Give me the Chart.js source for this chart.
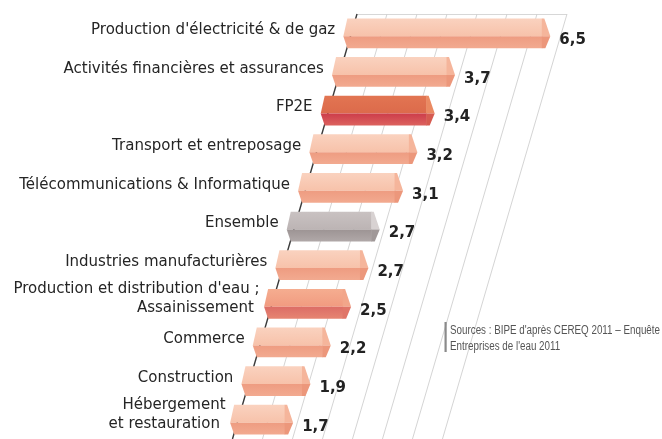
<!DOCTYPE html>
<html><head><meta charset="utf-8">
<script src="https://cdn.jsdelivr.net/npm/chart.js@4/dist/chart.umd.min.js"></script>
<style>html,body{margin:0;padding:0;background:#fff;}canvas{display:block;}</style>
</head><body>
<canvas id="c" width="662" height="439"></canvas>
<script>
const categories = [
  ["Production d'électricité & de gaz"],
  ["Activités financières et assurances"],
  ["FP2E"],
  ["Transport et entreposage"],
  ["Télécommunications & Informatique"],
  ["Ensemble"],
  ["Industries manufacturières"],
  ["Production et distribution d'eau ;", "Assainissement"],
  ["Commerce"],
  ["Construction"],
  ["Hébergement", "et restauration"]
];
const values = [6.5, 3.7, 3.4, 3.2, 3.1, 2.7, 2.7, 2.5, 2.2, 1.9, 1.7];
const xTicks = [0, 1, 2, 3, 4, 5, 6, 7];
const sourceLines = ["Sources : BIPE d'après CEREQ 2011 – Enquête", "Entreprises de l'eau 2011"];

const barKinds = ['light','light','fp2e','light','light','ensemble','light','eau','light','light','light'];
const palette = {
  light:    {t1:'#fad2bf', t2:'#f7c2aa', l1:'#ee9c81', l2:'#f2aa90', cu:'#f5b59b', cl:'#ec977b'},
  fp2e:     {t1:'#e27552', t2:'#dc6a4b', l1:'#cd3d4b', l2:'#dc625e', cu:'#ea8a62', cl:'#d65a50'},
  ensemble: {t1:'#c9c2c2', t2:'#bcb4b4', l1:'#9d9494', l2:'#b0a8a8', cu:'#d8d2d2', cl:'#a09898'},
  eau:      {t1:'#f5ad90', t2:'#f19b80', l1:'#dc6d66', l2:'#e68572', cu:'#f2a68a', cl:'#e07568'}
};
const K = -0.293;
const FONT = '"DejaVu Sans", "Liberation Sans", sans-serif';

const skew3d = {
  id: 'skew3d',
  beforeDatasetsDraw(chart) {
    const ctx = chart.ctx, a = chart.chartArea, xs = chart.scales.x;
    const H = a.bottom - a.top;
    ctx.save();
    ctx.strokeStyle = '#d2d2d2'; ctx.lineWidth = 0.9;
    ctx.beginPath();
    ctx.moveTo(xs.getPixelForValue(xTicks[0]), a.top + 0.5);
    ctx.lineTo(xs.getPixelForValue(xTicks[xTicks.length-1]), a.top + 0.5);
    ctx.stroke();
    xTicks.forEach((t, i) => {
      const x = xs.getPixelForValue(t);
      ctx.beginPath();
      ctx.strokeStyle = i === 0 ? '#3a3a3a' : '#cfcfcf';
      ctx.lineWidth = i === 0 ? 1.4 : 0.9;
      ctx.moveTo(x, a.top);
      ctx.lineTo(x + K * H, a.bottom);
      ctx.stroke();
    });
    ctx.restore();
  },
  afterDatasetsDraw(chart) {
    const ctx = chart.ctx, a = chart.chartArea;
    const meta = chart.getDatasetMeta(0);
    ctx.save();
    meta.data.forEach((el, i) => {
      const p = el.getProps(['x','y','base','height'], true);
      const s = K * (p.y - a.top);
      const xl = p.base + s - 4;
      const xr = xl + (p.x - p.base);
      const y0 = p.y - p.height/2, y1 = p.y + p.height/2, ys = y0 + 0.6*p.height;
      const c = palette[barKinds[i]];
      let g = ctx.createLinearGradient(0, y0, 0, ys);
      g.addColorStop(0, c.t1); g.addColorStop(1, c.t2);
      ctx.fillStyle = g;
      ctx.beginPath();
      ctx.moveTo(xl, y0); ctx.lineTo(xr, y0); ctx.lineTo(xr, ys); ctx.lineTo(xl-4, ys); ctx.closePath();
      ctx.fill();
      g = ctx.createLinearGradient(0, ys, 0, y1);
      g.addColorStop(0, c.l1); g.addColorStop(1, c.l2);
      ctx.fillStyle = g;
      ctx.beginPath();
      ctx.moveTo(xl-4, ys); ctx.lineTo(xr, ys); ctx.lineTo(xr, y1); ctx.lineTo(xl, y1); ctx.closePath();
      ctx.fill();
      ctx.fillStyle = c.cu;
      ctx.beginPath();
      ctx.moveTo(xr-0.5, y0); ctx.lineTo(xr+2, y0); ctx.lineTo(xr+8, ys); ctx.lineTo(xr-0.5, ys); ctx.closePath();
      ctx.fill();
      ctx.fillStyle = c.cl;
      ctx.beginPath();
      ctx.moveTo(xr-0.5, ys); ctx.lineTo(xr+8, ys); ctx.lineTo(xr+3, y1); ctx.lineTo(xr-0.5, y1); ctx.closePath();
      ctx.fill();

      // value label
      ctx.fillStyle = '#222';
      ctx.font = 'bold 15px ' + FONT;
      ctx.textAlign = 'left'; ctx.textBaseline = 'middle';
      ctx.fillText(String(values[i]).replace('.', ','), xr + 17, p.y + 7);

      // category label
      const lines = chart.data.labels[i];
      const n = lines.length, lh = 19;
      const cy = p.y + (n > 1 ? -5.5 : -3);
      ctx.font = '15px ' + FONT;
      ctx.fillStyle = '#252525';
      ctx.textAlign = 'right';
      lines.forEach((ln, j) => {
        const ly = cy - (n-1)*lh/2 + j*lh;
        const ax = p.base + K * (ly - a.top);
        ctx.fillText(ln, ax - 17, ly);
      });
    });

    // source note
    ctx.fillStyle = '#8a8a8a';
    ctx.fillRect(444.5, 322, 2.2, 30);
    ctx.fillStyle = '#555';
    ctx.font = '12px "Liberation Sans", sans-serif';
    ctx.textAlign = 'left'; ctx.textBaseline = 'middle';
    const w0 = ctx.measureText(sourceLines[0]).width;
    const sc = 210 / w0;
    sourceLines.forEach((ln, j) => {
      ctx.save();
      ctx.translate(450, 331 + j*16);
      ctx.scale(sc, 1);
      ctx.fillText(ln, 0, 0);
      ctx.restore();
    });
    ctx.restore();
  }
};

new Chart(document.getElementById('c'), {
  type: 'bar',
  data: {
    labels: categories,
    datasets: [{
      data: values,
      backgroundColor: 'rgba(0,0,0,0)',
      borderWidth: 0,
      barPercentage: 0.77,
      categoryPercentage: 1
    }]
  },
  options: {
    indexAxis: 'y',
    responsive: false,
    animation: false,
    layout: { padding: { left: 357, right: 95, top: 14, bottom: 0 } },
    scales: {
      x: { min: 0, max: 7, display: false },
      y: { display: false }
    },
    plugins: { legend: { display: false }, tooltip: { enabled: false } }
  },
  plugins: [skew3d]
});
</script>
</body></html>
